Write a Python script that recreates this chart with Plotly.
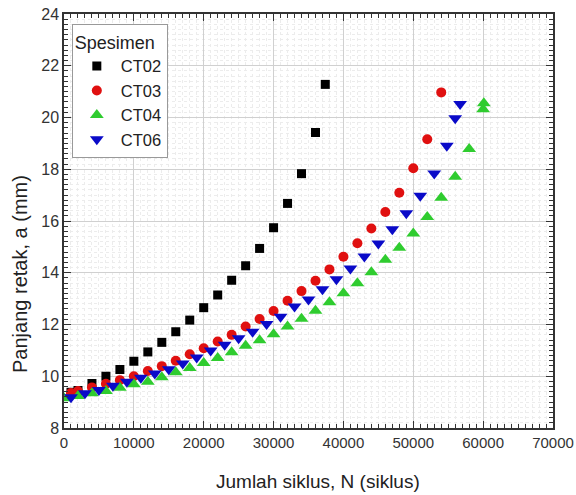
import plotly.graph_objects as go

# CT02
ct02_n = [1000, 2000, 4000, 6000, 8000, 10000, 12000, 14000, 16000, 18000, 20000,
          22000, 24000, 26000, 28000, 30000, 32000, 34000, 36000, 37400]
ct02_a = [9.38, 9.45, 9.72, 10.0, 10.26, 10.58, 10.94, 11.31, 11.72, 12.17, 12.65,
          13.14, 13.71, 14.27, 14.94, 15.74, 16.68, 17.83, 19.42, 21.28]

# CT03
ct03_n = [1000, 2000, 4000, 6000, 8000, 10000, 12000, 14000, 16000, 18000, 20000,
          22000, 24000, 26000, 28000, 30000, 32000, 34000, 36000, 38000, 40000,
          42000, 44000, 46000, 48000, 50000, 52000, 54000]
ct03_a = [9.35, 9.43, 9.57, 9.71, 9.85, 10.0, 10.2, 10.39, 10.6, 10.85, 11.08,
          11.34, 11.6, 11.92, 12.21, 12.52, 12.92, 13.29, 13.69, 14.13, 14.62,
          15.14, 15.71, 16.35, 17.09, 18.04, 19.16, 20.97]

# CT04
ct04_n = [0, 2000, 4000, 6000, 8000, 10000, 12000, 14000, 16000, 18000, 20000,
          22000, 24000, 26000, 28000, 30000, 32000, 34000, 36000, 38000, 40000,
          42000, 44000, 46000, 48000, 50000, 52000, 54000, 56000, 58000, 60000, 60100]
ct04_a = [9.15, 9.24, 9.34, 9.43, 9.56, 9.69, 9.79, 9.96, 10.15, 10.32, 10.51,
          10.71, 10.93, 11.18, 11.39, 11.62, 11.92, 12.22, 12.53, 12.86, 13.21,
          13.59, 14.02, 14.5, 14.97, 15.52, 16.15, 16.9, 17.71, 18.78, 20.32, 20.55]

# CT06
ct06_n = [1000, 3000, 5000, 7000, 9000, 11000, 13000, 15000, 17000, 19000, 21000,
          23000, 25000, 27000, 29000, 31000, 33000, 35000, 37000, 39000, 41000,
          43000, 45000, 47000, 49000, 51000, 53000, 54800, 56000, 56700]
ct06_a = [9.19, 9.34, 9.47, 9.63, 9.79, 9.94, 10.11, 10.27, 10.49, 10.72, 11.0,
          11.22, 11.47, 11.72, 12.02, 12.3, 12.7, 12.97, 13.36, 13.75, 14.16,
          14.63, 15.13, 15.68, 16.3, 16.98, 17.84, 18.91, 19.97, 20.52]

x_title = "Jumlah siklus, N (siklus)"
y_title = "Panjang retak, a (mm)"
legend_title = "Spesimen"

series = [
    ("CT02", ct02_n, ct02_a, "square", "#000000", 9),
    ("CT03", ct03_n, ct03_a, "circle", "#e01010", 10),
    ("CT04", ct04_n, ct04_a, "triangle-up", "#2fcc2f", 12),
    ("CT06", ct06_n, ct06_a, "triangle-down", "#0a0ac8", 12),
]

fig = go.Figure()
for name, n, a, sym, col, sz in series:
    fig.add_trace(go.Scatter(
        x=n, y=a, mode="markers", name=name,
        marker=dict(symbol=sym, color=col, size=sz, line=dict(width=0)),
    ))

font_family = "Liberation Sans, Arial, sans-serif"

fig.update_layout(
    width=576, height=495,
    margin=dict(l=64, r=23, t=14, b=67),
    paper_bgcolor="white", plot_bgcolor="white",
    font=dict(family=font_family, color="#222222", size=14),
    legend=dict(
        title=dict(text=legend_title, font=dict(size=18)),
        x=0.016, y=0.975, xanchor="left", yanchor="top",
        bordercolor="#999999", borderwidth=1, bgcolor="white",
        font=dict(size=16.5), itemwidth=38, tracegroupgap=0,
    ),
    showlegend=True,
    annotations=[
        dict(text=x_title, xref="paper", yref="paper", x=0.519, y=-0.130,
             xanchor="center", yanchor="middle", showarrow=False,
             font=dict(size=19, color="#222222")),
        dict(text=y_title, xref="paper", yref="paper", x=-0.090, y=0.372,
             xanchor="center", yanchor="middle", showarrow=False, textangle=-90,
             font=dict(size=20, color="#222222")),
    ],
)

fig.update_xaxes(
    range=[0, 70000], tick0=0, dtick=10000, tickformat="d",
    automargin=False, ticklabeloverflow="allow",
    showline=True, linecolor="#333333", linewidth=1.5, mirror="ticks",
    ticks="inside", ticklen=7, tickcolor="#333333",
    showgrid=True, gridcolor="#d0d0d0", gridwidth=1,
    minor=dict(dtick=1000, ticks="inside", ticklen=4, tickcolor="#333333",
               showgrid=True, gridcolor="#ececec", griddash="dot", gridwidth=1),
    zeroline=False,
    tickfont=dict(size=15, color="#333333"),
)
fig.update_yaxes(
    range=[8, 24], tick0=8, dtick=2,
    automargin=False, ticklabeloverflow="allow",
    showline=True, linecolor="#333333", linewidth=1.5, mirror="ticks",
    ticks="inside", ticklen=7, tickcolor="#333333",
    showgrid=True, gridcolor="#d0d0d0", gridwidth=1,
    minor=dict(dtick=0.2, ticks="inside", ticklen=4, tickcolor="#333333",
               showgrid=True, gridcolor="#ececec", griddash="dot", gridwidth=1),
    zeroline=False,
    tickfont=dict(size=16, color="#333333"),
)

# remove the default 8px page margin so the figure fills the window exactly
fig.write_html("out.html", config={"displayModeBar": False},
               post_script="document.body.style.margin='0px';")
